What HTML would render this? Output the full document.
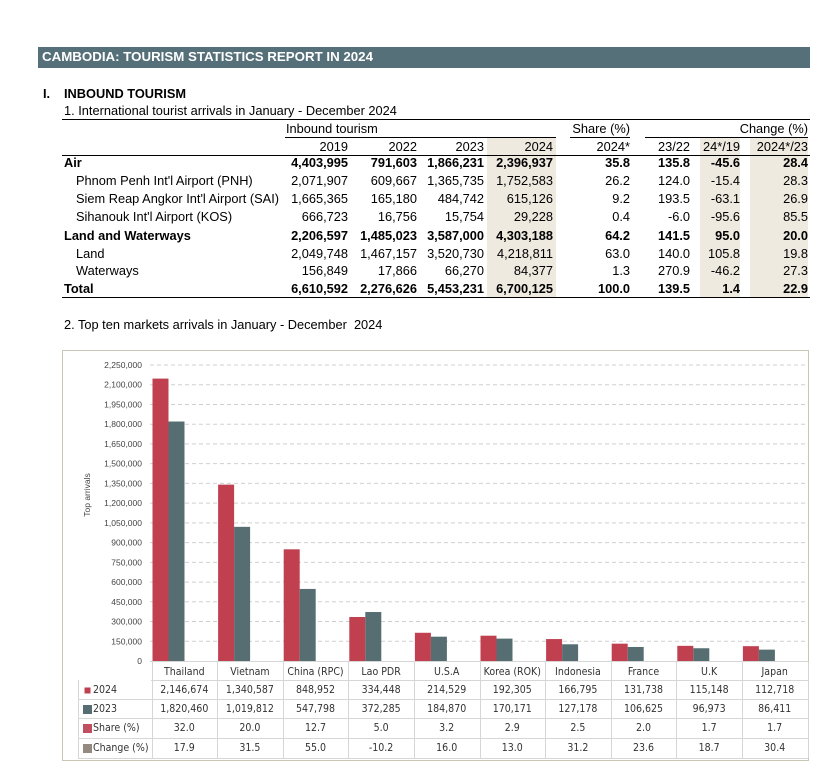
<!DOCTYPE html>
<html><head><meta charset="utf-8"><style>
body{margin:0;width:828px;height:768px;background:#fff;position:relative;font-family:"Liberation Sans",Arial,sans-serif;overflow:hidden}
.a{position:absolute;white-space:nowrap;font-size:12.8px;color:#000;line-height:14px}
.r{text-align:right}
.b{font-weight:bold}
.ln{position:absolute;background:#000;height:1px}
.sh{position:absolute;background:#eeeae0}
</style></head><body>
<div style="position:absolute;left:38px;top:47px;width:772px;height:21px;background:#56707a"></div>
<div class="a b" style="left:42px;top:50px;color:#fff;font-size:13.3px">CAMBODIA: TOURISM STATISTICS REPORT IN 2024</div>
<div class="a b" style="left:43px;top:87px">I.</div>
<div class="a b" style="left:64px;top:87px">INBOUND TOURISM</div>
<div class="a" style="left:64px;top:104px">1. International tourist arrivals in January - December 2024</div>
<div class="ln" style="left:62px;top:119px;width:748px"></div>
<div class="sh" style="left:487px;top:138px;width:69px;height:160px"></div>
<div class="sh" style="left:700px;top:138px;width:40px;height:160px"></div>
<div class="sh" style="left:750px;top:138px;width:58px;height:160px"></div>
<div class="a" style="left:286px;top:122px">Inbound tourism</div>
<div class="a r" style="left:560px;width:70px;top:122px">Share (%)</div>
<div class="a r" style="left:700px;width:108px;top:122px">Change (%)</div>
<div class="ln" style="left:285px;top:137px;width:271px"></div>
<div class="ln" style="left:570px;top:137px;width:60px"></div>
<div class="ln" style="left:645px;top:137px;width:163px"></div>
<div class="ln" style="left:62px;top:155px;width:748px"></div>
<div class="ln" style="left:62px;top:297px;width:748px"></div>
<div id="t"></div>
<div class="a" style="left:64px;top:318px">2. Top ten markets arrivals in January - December&nbsp; 2024</div>
<svg style="position:absolute;left:0;top:0" width="828" height="768" id="c"></svg>
<script>
var rows=[["",0,"2019","2022","2023","2024","2024*","23/22","24*/19","2024*/23",140],
["Air",1,"4,403,995","791,603","1,866,231","2,396,937","35.8","135.8","-45.6","28.4"],
["Phnom Penh Int'l Airport (PNH)",0,"2,071,907","609,667","1,365,735","1,752,583","26.2","124.0","-15.4","28.3"],
["Siem Reap Angkor Int'l Airport (SAI)",0,"1,665,365","165,180","484,742","615,126","9.2","193.5","-63.1","26.9"],
["Sihanouk Int'l Airport (KOS)",0,"666,723","16,756","15,754","29,228","0.4","-6.0","-95.6","85.5"],
["Land and Waterways",1,"2,206,597","1,485,023","3,587,000","4,303,188","64.2","141.5","95.0","20.0"],
["Land",0,"2,049,748","1,467,157","3,520,730","4,218,811","63.0","140.0","105.8","19.8"],
["Waterways",0,"156,849","17,866","66,270","84,377","1.3","270.9","-46.2","27.3"],
["Total",1,"6,610,592","2,276,626","5,453,231","6,700,125","100.0","139.5","1.4","22.9"]];
var R=[348,417,484,553,630,690,740,808],h="";
var ys=[140,156,174,192,210,229,247,264,282];
rows.forEach(function(r,i){var y=ys[i];
 if(r[0]){var ind=(r[1]||r[0]=="Total")?64:76;h+='<div class="a'+(r[1]?' b':'')+'" style="left:'+ind+'px;top:'+y+'px">'+r[0]+'</div>';}
 for(var j=0;j<8;j++){
  h+='<div class="a r'+(r[1]?' b':'')+'" style="left:'+(R[j]-90)+'px;width:90px;top:'+y+'px">'+r[j+2]+'</div>';}
});
document.getElementById('t').innerHTML=h;
var s='',sc=296/2250000,y0=661;
s+='<rect x="62.5" y="350.5" width="746" height="410" fill="none" stroke="#c9c7b3"/>';
for(var k=0;k<=15;k++){var y=y0-k*150000*sc;
 if(k>0)s+='<line x1="150" x2="806" y1="'+y+'" y2="'+y+'" stroke="#d0d0d0" stroke-dasharray="4,3"/>';
 var v=(k*150000).toLocaleString('en-US');
 s+='<text x="142" y="'+(y+3)+'" font-size="8.5" fill="#444" text-anchor="end" font-family="Liberation Sans">'+v+'</text>';}
s+='<text transform="translate(90,495) rotate(-90)" font-size="8.5" fill="#444" text-anchor="middle" font-family="Liberation Sans">Top arrivals</text>';
var C=["Thailand","Vietnam","China (RPC)","Lao PDR","U.S.A","Korea (ROK)","Indonesia","France","U.K","Japan"];
var a=[2146674,1340587,848952,334448,214529,192305,166795,131738,115148,112718];
var b=[1820460,1019812,547798,372285,184870,170171,127178,106625,96973,86411];
var A=["2,146,674","1,340,587","848,952","334,448","214,529","192,305","166,795","131,738","115,148","112,718"];
var B=["1,820,460","1,019,812","547,798","372,285","184,870","170,171","127,178","106,625","96,973","86,411"];
var S=["32.0","20.0","12.7","5.0","3.2","2.9","2.5","2.0","1.7","1.7"];
var G=["17.9","31.5","55.0","-10.2","16.0","13.0","31.2","23.6","18.7","30.4"];
var tr=[662,680,699,718,738,758];
for(var i=0;i<10;i++){var x=151.5+65.6*i;
 var ha=a[i]*sc,hb=b[i]*sc;
 s+='<rect x="'+(x+1)+'" y="'+(y0-ha)+'" width="16" height="'+ha+'" fill="#c0404f"/>';
 s+='<rect x="'+(x+17)+'" y="'+(y0-hb)+'" width="16" height="'+hb+'" fill="#566e72"/>';
 var cx=x+32.8;
 [C[i],A[i],B[i],S[i],G[i]].forEach(function(t,j){s+='<text x="'+cx+'" y="'+(tr[j]+13)+'" font-size="10.5" fill="#333" text-anchor="middle" font-family="DejaVu Sans Condensed,Liberation Sans" >'+t+'</text>';});
}
s+='<line x1="150" x2="808" y1="661.5" y2="661.5" stroke="#d6d6d6"/>';
for(var j=1;j<6;j++)s+='<line x1="'+(j==1?151:78)+'" x2="808" y1="'+(tr[j]+.5)+'" y2="'+(tr[j]+.5)+'" stroke="#d6d6d6"/>';
s+='<line x1="78" x2="808" y1="758.5" y2="758.5" stroke="#d6d6d6"/>';
s+='<line x1="78.5" x2="78.5" y1="680" y2="758" stroke="#d6d6d6"/>';
for(var i=0;i<=10;i++){var x=Math.round(151.5+65.6*i)+.5;s+='<line x1="'+x+'" x2="'+x+'" y1="662" y2="758" stroke="#d6d6d6"/>';}
var L=[["2024","#c0404f",6],["2023","#566e72",9],["Share (%)","#c0505f",9],["Change (%)","#948a80",9]];
L.forEach(function(l,j){var y=tr[j+1];s+='<rect x="'+(83+(9-l[2])/2)+'" y="'+(y+6+(9-l[2])/2)+'" width="'+l[2]+'" height="'+l[2]+'" fill="'+l[1]+'"/>';
 s+='<text x="93" y="'+(y+13)+'" font-size="10.5" fill="#333" font-family="DejaVu Sans Condensed,Liberation Sans">'+l[0]+'</text>';});
document.getElementById('c').innerHTML=s;
</script>
</body></html>
